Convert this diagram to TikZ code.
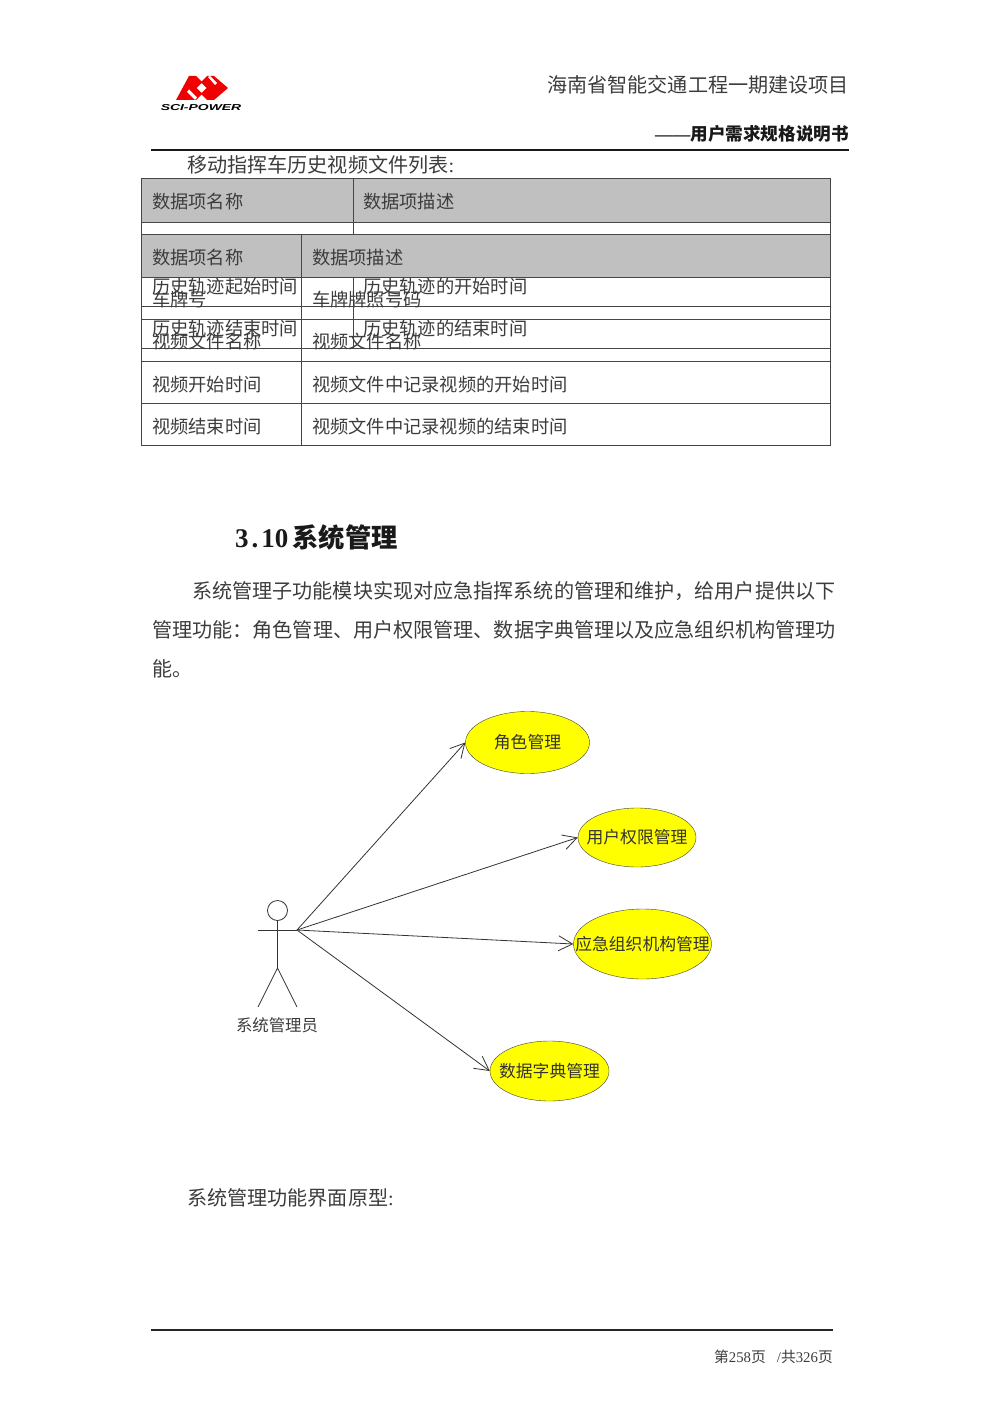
\documentclass[tikz,border=0pt]{standalone}
\usepackage{fontspec}
\setmainfont{Noto Sans CJK SC}
\newfontfamily\latinfont{Liberation Serif}
\newfontfamily\logofont{Liberation Sans}
\usetikzlibrary{arrows.meta,positioning,shapes.geometric}
\definecolor{docink}{RGB}{60,60,60}
\definecolor{docline}{RGB}{70,70,70}
\definecolor{docgray}{RGB}{192,192,192}
\definecolor{logored}{RGB}{240,0,0}
\definecolor{caseyellow}{RGB}{255,255,0}
\newcommand{\casetext}[1]{\makebox[0pt]{#1}}
\tikzset{
  pagetext/.style={font=\fontsize{20.1}{24}\selectfont, text=docink, anchor=west, inner sep=0pt},
  celltext/.style={font=\fontsize{18.25}{22}\selectfont, text=docink, anchor=west, inner sep=0pt, yshift=-0.6pt},
  usecase/.style={ellipse, draw=black!75, fill=caseyellow, inner sep=0pt, font=\fontsize{16.8}{20}\selectfont, text=black!80},
  tableline/.style={draw=docline, line width=0.9pt},
  actorline/.style={draw=black!80, line width=0.8pt},
  uses/.style={draw=black!80, line width=0.8pt, -{Straight Barb[length=14pt,width=15pt]}}
}
\begin{document}
\begin{tikzpicture}[x=1pt,y=-1pt]
  \useasboundingbox (0,0) rectangle (1000,1415);

  %% Page header
  \fill[logored, even odd rule] (176,100) -- (189,76) -- (196,76) -- (201.5,81.5) -- (207,76) -- (214,76) -- (228,88) -- (214,100) -- (207,100) -- (201.5,94.5) -- (196,100) -- cycle
    (201.5,83) -- (206.5,88) -- (201.5,93) -- (196.5,88) -- cycle;
  \fill[white] (187,92) -- (189,89.5) -- (197,97.5) -- (195,100) -- cycle;
  \fill[white] (208,77) -- (210,76) -- (217,83) -- (215,85) -- cycle;
  \node[font=\logofont\bfseries\itshape\fontsize{8.6}{10}\selectfont, xscale=1.62, inner sep=0pt, text=black] (logotext) at (201,107.5) {SCI-POWER};
  \node[pagetext, anchor=east] (projecttitle) at (849,85) {海南省智能交通工程一期建设项目};
  \node[font=\fontsize{17.6}{21}\selectfont\bfseries, text=black!90, anchor=east, inner sep=0pt] (doctitle) at (849,134) {{\latinfont ——}用户需求规格说明书};
  \draw[black!90, line width=2pt] (151,150.5) -- (849,150.5);
  \node[pagetext] (tablecaption) at (187,165) {移动指挥车历史视频文件列表{\latinfont :}};

  %% Table: header bands, then rules
  \fill[docgray] (141,178) rectangle (830,222);
  \fill[docgray] (141,234) rectangle (830,277);
  \draw[tableline] (141,178) rectangle (830,445);
  \draw[tableline] (141,222) -- (830,222);
  \draw[tableline] (141,234) -- (830,234);
  \draw[tableline] (141,277) -- (830,277);
  \draw[tableline] (141,306) -- (830,306);
  \draw[tableline] (141,319) -- (830,319);
  \draw[tableline] (141,348) -- (830,348);
  \draw[tableline] (141,361) -- (830,361);
  \draw[tableline] (141,403) -- (830,403);
  \draw[tableline] (353,178) -- (353,234);
  \draw[tableline] (353,277) -- (353,348);
  \draw[tableline] (301.5,234) -- (301.5,445);

  %% Table: cell texts
  \node[celltext] (headnameA) at (152,201) {数据项名称};
  \node[celltext] (headdescA) at (363,201) {数据项描述};
  \node[celltext] (headnameB) at (152,257) {数据项名称};
  \node[celltext] (headdescB) at (312,257) {数据项描述};
  \node[celltext] (startname) at (152,286) {历史轨迹起始时间};
  \node[celltext] (startdesc) at (363,286) {历史轨迹的开始时间};
  \node[celltext] (platename) at (152,299) {车牌号};
  \node[celltext] (platedesc) at (312,299) {车牌牌照号码};
  \node[celltext] (endname) at (152,328) {历史轨迹结束时间};
  \node[celltext] (enddesc) at (363,328) {历史轨迹的结束时间};
  \node[celltext] (filename) at (152,341) {视频文件名称};
  \node[celltext] (filedesc) at (312,341) {视频文件名称};
  \node[celltext] (videostart) at (152,384) {视频开始时间};
  \node[celltext] (videostartdesc) at (312,384) {视频文件中记录视频的开始时间};
  \node[celltext] (videoend) at (152,426) {视频结束时间};
  \node[celltext] (videoenddesc) at (312,426) {视频文件中记录视频的结束时间};

  %% Section text
  \node[anchor=west, inner sep=0pt, text=black!90, font=\fontsize{26.3}{30}\selectfont\bfseries] (sectiontitle) at (235,537) {{\latinfont\fontsize{27}{30}\selectfont 3\hspace{3pt}.\hspace{3pt}10}\hspace{4pt}系统管理};
  \node[pagetext] (paraA) at (192,591) {系统管理子功能模块实现对应急指挥系统的管理和维护，给用户提供以下};
  \node[pagetext] (paraB) at (152,630) {管理功能：角色管理、用户权限管理、数据字典管理以及应急组织机构管理功};
  \node[pagetext] (paraC) at (152,669) {能。};

  %% Use cases
  \node[usecase, minimum width=124pt, minimum height=62pt] (rolecase) at (527.5,742.5) {\casetext{角色管理}};
  \node[usecase, minimum width=118pt, minimum height=59pt] (rightcase) at (637,837.5) {\casetext{用户权限管理}};
  \node[usecase, minimum width=138pt, minimum height=70pt] (orgcase) at (642.5,944) {\casetext{应急组织机构管理}};
  \node[usecase, minimum width=119pt, minimum height=60pt] (dictcase) at (549.5,1071) {\casetext{数据字典管理}};

  %% Actor
  \node[circle, draw=black!80, line width=0.8pt, minimum size=20pt, inner sep=0pt] (actorhead) at (277.5,910.5) {};
  \coordinate (handleft) at (258,930);
  \coordinate (handright) at (297,930);
  \coordinate (hip) at (277.5,968);
  \coordinate (footleft) at (258,1007);
  \coordinate (footright) at (297,1007);
  \draw[actorline] (actorhead.south) -- (hip);
  \draw[actorline] (handleft) -- (handright);
  \draw[actorline] (footleft) -- (hip) -- (footright);
  \node[font=\fontsize{16.4}{20}\selectfont, text=docink, inner sep=0pt] (actorlabel) at (277,1025) {系统管理员};

  %% Connectors
  \draw[uses] (handright) -- (rolecase.west);
  \draw[uses] (handright) -- (rightcase.west);
  \draw[uses] (handright) -- (orgcase.west);
  \draw[uses] (handright) -- (dictcase.west);

  \node[pagetext] (protocaption) at (187,1198) {系统管理功能界面原型{\latinfont :}};

  %% Page footer
  \draw[black!85, line width=1.2pt] (151,1330) -- (833,1330);
  \node[font=\fontsize{14.8}{17}\selectfont, text=docink, anchor=east, inner sep=0pt] (pagenumber) at (833,1357) {第{\latinfont 258}页\hspace{11pt}{\latinfont /}共{\latinfont 326}页};
\end{tikzpicture}
\end{document}
